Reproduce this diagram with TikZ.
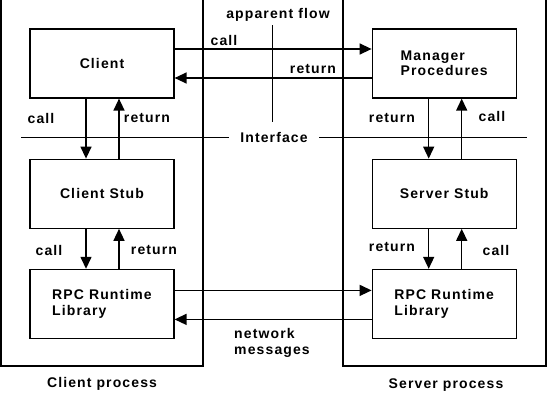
\documentclass[tikz,border=0pt]{standalone}
\usepackage{fontspec}
\setmainfont{Liberation Sans}[LetterSpace=8]
\usepackage{tikz}
\usetikzlibrary{arrows.meta,positioning}

\begin{document}
\begin{tikzpicture}[x=1pt, y=-1pt,
  every node/.style={font=\fontsize{14}{15.5}\selectfont\bfseries},
  box/.style={draw, line width=1.2pt, minimum width=144pt, minimum height=69pt, align=left},
  proc/.style={line width=1.8pt},
  arr/.style={-{Triangle[length=12pt, width=11pt]}, line width=1.4pt},
  thin/.style={line width=1pt},
  lbl/.style={inner sep=1pt}
]
\useasboundingbox (0,0) rectangle (560,415);

% process frames (open at the top)
\draw[proc] (1,0) |- (203,366) -- (203,0);
\draw[proc] (343,0) |- (546,366) -- (546,0);

% boxes
\node[box] (client) at (102,63.5) {Client};
\node[box, right=197pt of client] (mgr) {Manager\\Procedures};
\node[box, below=60pt of client] (cstub) {Client Stub};
\node[box, below=60pt of mgr] (sstub) {Server Stub};
\node[box, below=40pt of cstub] (crpc) {RPC Runtime\\Library};
\node[box, below=40pt of sstub] (srpc) {RPC Runtime\\Library};

% apparent flow and interface
\node (flow) at (278,15) {apparent flow};
\coordinate (flowend) at (272,122);
\draw[thin] (flowend |- flow.south) -- (flowend);
\node (iface) at (274,137) {Interface};
\coordinate (ifl) at (21,137);
\coordinate (ifr) at (527,137);
\draw[thin] (ifl) -- ([xshift=-8pt]iface.west);
\draw[thin] ([xshift=8pt]iface.east) -- (ifr);

% calls between client and manager
\draw[arr] ([yshift=14.5pt]client.east) -- ([yshift=14.5pt]mgr.west);
\draw[arr] ([yshift=-14.5pt]mgr.west) -- ([yshift=-14.5pt]client.east);
\node[lbl] (calltop) at (224,40) {call};
\node[lbl] (rettop) at (313,69) {return};

% client side
\draw[arr] ([xshift=-16pt]client.south) -- ([xshift=-16pt]cstub.north);
\draw[arr] ([xshift=17pt]cstub.north) -- ([xshift=17pt]client.south);
\draw[arr] ([xshift=-16pt]cstub.south) -- ([xshift=-16pt]crpc.north);
\draw[arr] ([xshift=17pt]crpc.north) -- ([xshift=17pt]cstub.south);
\node[lbl] (callcl) at (41,118) {call};
\node[lbl] (retcl) at (147,118) {return};
\node[lbl] (callcs) at (49,250) {call};
\node[lbl] (retcs) at (154,250) {return};

% server side
\draw[arr] ([xshift=-15.5pt]mgr.south) -- ([xshift=-15.5pt]sstub.north);
\draw[arr] ([xshift=17.5pt]sstub.north) -- ([xshift=17.5pt]mgr.south);
\draw[arr] ([xshift=-15.5pt]sstub.south) -- ([xshift=-15.5pt]srpc.north);
\draw[arr] ([xshift=17.5pt]srpc.north) -- ([xshift=17.5pt]sstub.south);
\node[lbl] (retsm) at (392,118) {return};
\node[lbl] (callsm) at (492,116) {call};
\node[lbl] (retss) at (392,247) {return};
\node[lbl] (callss) at (496,250) {call};

% network messages
\draw[arr] ([yshift=13.5pt]crpc.east) -- ([yshift=13.5pt]srpc.west);
\draw[arr] ([yshift=-15.5pt]srpc.west) -- ([yshift=-15.5pt]crpc.east);
\node[lbl, align=left] (net) at (272,343) {network\\messages};

% process names
\node (cproc) at (102,384) {Client process};
\node (sproc) at (446,385) {Server process};
\end{tikzpicture}
\end{document}
